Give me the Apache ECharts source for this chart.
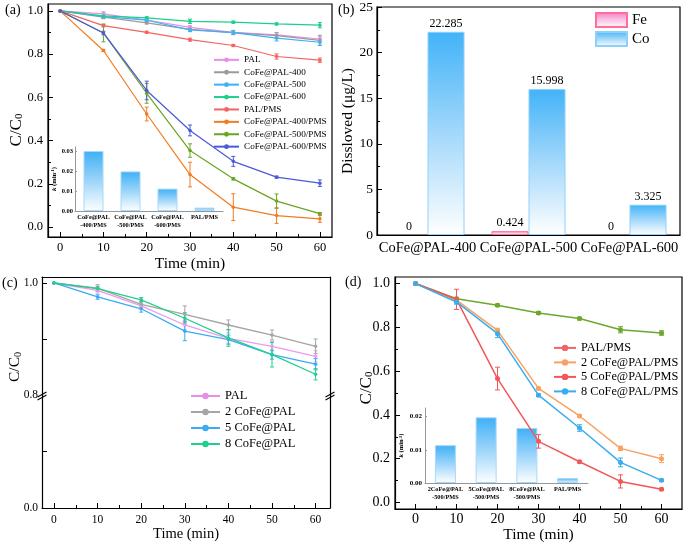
<!DOCTYPE html>
<html><head><meta charset="utf-8">
<script src="https://cdn.jsdelivr.net/npm/echarts@6/dist/echarts.min.js"></script>
<style>html,body{margin:0;padding:0;background:#fff}#c{width:685px;height:544px}</style>
</head><body><div id="c"></div>
<script>
// ---------------- data ----------------
const timeMin = [0, 10, 20, 30, 40, 50, 60];
const timeTicks = [0, 10, 20, 30, 40, 50, 60];
const timeMinorTicks = [5, 15, 25, 35, 45, 55];
const yTicksMain = [0, 0.2, 0.4, 0.6, 0.8, 1.0];
const yTicksMinor = [0.1, 0.3, 0.5, 0.7, 0.9];

// panel (a)
const aNames = ['PAL', 'CoFe@PAL-400', 'CoFe@PAL-500', 'CoFe@PAL-600', 'PAL/PMS', 'CoFe@PAL-400/PMS', 'CoFe@PAL-500/PMS', 'CoFe@PAL-600/PMS'];
const aPAL     = [1, 0.986, 0.958, 0.924, 0.901, 0.889, 0.870];
const a400     = [1, 0.971, 0.945, 0.915, 0.900, 0.886, 0.864];
const a500     = [1, 0.974, 0.957, 0.912, 0.900, 0.874, 0.855];
const a600     = [1, 0.977, 0.968, 0.952, 0.948, 0.940, 0.934];
const aPALPMS  = [1, 0.932, 0.901, 0.867, 0.840, 0.789, 0.772];
const a400PMS  = [1, 0.817, 0.523, 0.243, 0.092, 0.053, 0.038];
const a500PMS  = [1, 0.898, 0.619, 0.354, 0.223, 0.120, 0.062];
const a600PMS  = [1, 0.898, 0.632, 0.447, 0.304, 0.231, 0.203];
const aErrPAL    = [0, 0.010, 0.006, 0.008, 0.008, 0.010, 0.010];
const aErr400    = [0, 0.005, 0.006, 0.010, 0.010, 0.013, 0.023];
const aErr500    = [0, 0.005, 0.006, 0.008, 0.008, 0.013, 0.015];
const aErr600    = [0, 0.013, 0.005, 0.010, 0.005, 0.005, 0.012];
const aErrPALPMS = [0, 0.006, 0.005, 0.007, 0.005, 0.012, 0.010];
const aErr400PMS = [0, 0.005, 0.032, 0.057, 0.062, 0.036, 0.016];
const aErr500PMS = [0, 0.041, 0.046, 0.031, 0.005, 0.033, 0.005];
const aErr600PMS = [0, 0.008, 0.043, 0.025, 0.023, 0.005, 0.015];
const insetACats = ['CoFe@PAL\n-400/PMS', 'CoFe@PAL\n-500/PMS', 'CoFe@PAL\n-600/PMS', 'PAL/PMS'];
const insetAK = [0.0300, 0.0198, 0.0112, 0.0017];
const insetATicks = [0, 0.01, 0.02, 0.03];

// panel (b)
const bCategories = ['CoFe@PAL-400', 'CoFe@PAL-500', 'CoFe@PAL-600'];
const bFe = [0, 0.424, 0];
const bCo = [22.285, 15.998, 3.325];

// panel (c)
const cNames = ['PAL', '2 CoFe@PAL', '5 CoFe@PAL', '8 CoFe@PAL'];
const cPAL = [1, 0.987, 0.959, 0.925, 0.901, 0.887, 0.869];
const c2   = [1, 0.991, 0.962, 0.944, 0.925, 0.907, 0.887];
const c5   = [1, 0.975, 0.954, 0.914, 0.899, 0.872, 0.855];
const c8   = [1, 0.990, 0.970, 0.937, 0.902, 0.872, 0.837];
const cErrPAL = [0, 0.005, 0.005, 0.008, 0.010, 0.008, 0.010];
const cErr2   = [0, 0.006, 0.005, 0.015, 0.009, 0.009, 0.013];
const cErr5   = [0, 0.004, 0.006, 0.017, 0.008, 0.008, 0.010];
const cErr8   = [0, 0.004, 0.004, 0.010, 0.015, 0.022, 0.010];

// panel (d)
const dNames = ['PAL/PMS', '2 CoFe@PAL/PMS', '5 CoFe@PAL/PMS', '8 CoFe@PAL/PMS'];
const dPALPMS = [1, 0.931, 0.901, 0.866, 0.840, 0.789, 0.774];
const d2      = [1, 0.924, 0.786, 0.521, 0.395, 0.247, 0.200];
const d5      = [1, 0.928, 0.566, 0.279, 0.186, 0.096, 0.060];
const d8      = [1, 0.916, 0.771, 0.490, 0.340, 0.183, 0.101];
const dErrPALPMS = [0, 0.006, 0.006, 0.006, 0.006, 0.014, 0.010];
const dErr2      = [0, 0.008, 0.010, 0.006, 0.006, 0.010, 0.018];
const dErr5      = [0, 0.046, 0.052, 0.031, 0.005, 0.030, 0.005];
const dErr8      = [0, 0.010, 0.018, 0.006, 0.015, 0.020, 0.005];
const insetDCats = ['2CoFe@PAL\n-500/PMS', '5CoFe@PAL\n-500/PMS', '8CoFe@PAL\n-500/PMS', 'PAL/PMS'];
const insetDK = [0.0114, 0.0198, 0.0166, 0.0015];
const insetDTicks = [0, 0.01, 0.02];

// ---------------- helpers ----------------
const FONT = '"Liberation Serif","Times New Roman",serif';

function vAxis(o) {
  return {
    type: 'value', gridIndex: o.g, position: o.pos, min: o.min, max: o.max,
    axisLine: { show: o.line !== false, onZero: false, lineStyle: { color: o.lc || '#000', width: o.lw || 1.2 } },
    axisTick: { show: !!o.ticks, inside: true, length: o.tl || 5, customValues: o.ticks, lineStyle: { color: o.lc || '#000', width: 1 } },
    axisLabel: { show: !!o.labels, customValues: o.labels, margin: o.margin || 5, fontFamily: FONT, fontSize: o.fs || 12,
      fontWeight: o.fw || 'normal', color: '#000', formatter: o.fmt },
    splitLine: { show: false }, minorTick: { show: false },
    name: o.name || '', nameLocation: 'middle', nameGap: o.nameGap || 20,
    nameTextStyle: Object.assign({ fontFamily: FONT, fontSize: o.nfs || 15, color: '#000' }, o.nts || {}),
    z: 5
  };
}
const f1 = v => v.toFixed(1);
const f2 = v => v.toFixed(2);

function lineS(name, ys, color, xi, yi, size, lw) {
  return { type: 'line', name: name, xAxisIndex: xi, yAxisIndex: yi,
    data: timeMin.map((t, i) => [t, ys[i]]), symbol: 'circle', symbolSize: size, showSymbol: true,
    lineStyle: { color: color, width: lw }, itemStyle: { color: color }, z: 4 };
}
function errS(name, ys, es, color, xi, yi, cap) {
  return { type: 'custom', name: name + ' err', xAxisIndex: xi, yAxisIndex: yi, silent: true, z: 3,
    data: timeMin.map((t, i) => [t, ys[i] - es[i], ys[i] + es[i]]),
    encode: { x: 0, y: [1, 2] },
    renderItem: function (params, api) {
      const p0 = api.coord([api.value(0), api.value(1)]);
      const p1 = api.coord([api.value(0), api.value(2)]);
      const st = { stroke: color, lineWidth: 1 };
      return { type: 'group', children: [
        { type: 'line', shape: { x1: p0[0], y1: p0[1], x2: p1[0], y2: p1[1] }, style: st },
        { type: 'line', shape: { x1: p0[0] - cap, y1: p0[1], x2: p0[0] + cap, y2: p0[1] }, style: st },
        { type: 'line', shape: { x1: p1[0] - cap, y1: p1[1], x2: p1[0] + cap, y2: p1[1] }, style: st }
      ] };
    } };
}
function grad(c0, c1, c2) {
  return new echarts.graphic.LinearGradient(0, 0, 0, 1, [
    { offset: 0, color: c0 }, { offset: 0.5, color: c1 }, { offset: 1, color: c2 }]);
}
function catInset(g, cats) {
  return { type: 'category', gridIndex: g, data: cats,
    axisLine: { onZero: false, lineStyle: { color: '#8f99a6', width: 1 } }, axisTick: { show: false },
    axisLabel: { interval: 0, fontFamily: FONT, fontSize: 6.3, fontWeight: 'bold', color: '#000', lineHeight: 8, margin: 2 } };
}
const kName = { name: '{i|k} (min{p|-1})', nts: { fontSize: 6.5, fontWeight: 'bold',
  rich: { i: { fontStyle: 'italic', fontWeight: 'bold', fontSize: 7, fontFamily: FONT },
          p: { fontSize: 4.5, fontWeight: 'bold', verticalAlign: 'top', lineHeight: 5, fontFamily: FONT } } } };
// zero-height bars get no outline (value stays as read)
const barItems = vals => vals.map(v => (v === 0 ? { value: v, itemStyle: { borderWidth: 0 } } : v));

// ---------------- colours ----------------
const aColors = ['#e68fe6', '#9b9b9b', '#3db1f5', '#1ccf8a', '#f26464', '#f27b22', '#6aa522', '#4a5ad8'];
const cColors = ['#ee99ee', '#a5a5a5', '#3aabf5', '#1fcf8c'];
const dColors = ['#6ca82c', '#f7a263', '#f25757', '#38adef'];

// ---------------- grids ----------------
const frame = { show: true, borderColor: '#000', borderWidth: 1.2, backgroundColor: 'transparent' };
const grids = [
  Object.assign({ left: 48, top: 4, width: 284, height: 233 }, frame),   // 0 a
  { left: 75, top: 147, width: 148, height: 64 },                           // 1 a inset
  Object.assign({ left: 377, top: 5, width: 303, height: 230 }, frame),  // 2 b
  { left: 42, top: 277, width: 288, height: 118 },                          // 3 c upper
  { left: 42, top: 395, width: 288, height: 113 },                          // 4 c lower
  Object.assign({ left: 395, top: 277, width: 287, height: 232 }, frame),// 5 d
  { left: 425, top: 408, width: 163, height: 75 }                           // 6 d inset
];

const xAxes = [
  vAxis({ g: 0, pos: 'bottom', min: -2.8, max: 62.8, ticks: timeTicks, labels: timeTicks, fs: 12.5, margin: 4.7,
          name: 'Time (min)', nameGap: 12, nfs: 15.5 }),                                                   // 0
  vAxis({ g: 0, pos: 'bottom', min: -2.8, max: 62.8, line: false, ticks: timeMinorTicks, tl: 3 }),      // 1
  catInset(1, insetACats),                                                                               // 2
  { type: 'category', gridIndex: 2, data: bCategories,
    axisLine: { onZero: false, lineStyle: { color: '#000', width: 1.2 } },
    axisTick: { inside: true, length: 5, lineStyle: { color: '#000' } },
    axisLabel: { interval: 0, fontFamily: FONT, fontSize: 14.5, color: '#000', margin: 6 } },            // 3
  vAxis({ g: 3, pos: 'top', min: -2.75, max: 63.3 }),                                                   // 4
  vAxis({ g: 4, pos: 'bottom', min: -2.75, max: 63.3, ticks: timeTicks, labels: timeTicks, fs: 11.5, margin: 5.5,
          name: 'Time (min)', nameGap: 14, nfs: 14.5 }),                                                 // 5
  vAxis({ g: 4, pos: 'bottom', min: -2.75, max: 63.3, line: false, ticks: timeMinorTicks, tl: 3 }),     // 6
  vAxis({ g: 5, pos: 'bottom', min: -5, max: 65, ticks: timeTicks, labels: timeTicks, fs: 14, margin: 3,
          name: 'Time (min)', nameGap: 12, nfs: 15.5 }),                                                 // 7
  vAxis({ g: 5, pos: 'bottom', min: -5, max: 65, line: false, ticks: timeMinorTicks, tl: 3 }),          // 8
  catInset(6, insetDCats)                                                                                // 9
];

const yAxes = [
  vAxis({ g: 0, pos: 'left', min: -0.046, max: 1.032, ticks: yTicksMain, labels: yTicksMain, fmt: f1, fs: 12.5, margin: 5 }), // 0
  vAxis({ g: 0, pos: 'left', min: -0.046, max: 1.032, line: false, ticks: yTicksMinor, tl: 3 }),                              // 1
  vAxis(Object.assign({ g: 1, pos: 'left', min: 0, max: 0.032, ticks: insetATicks, labels: insetATicks, fmt: f2,
          fs: 6.5, fw: 'bold', lc: '#8f99a6', lw: 1, tl: 2, margin: 2, nameGap: 15 }, kName)),                                 // 2
  { type: 'value', gridIndex: 2, min: 0, max: 25, interval: 5,
    axisLine: { show: true, onZero: false, lineStyle: { color: '#000', width: 1.2 } },
    axisTick: { show: true, inside: true, length: 5, lineStyle: { color: '#000' } },
    minorTick: { show: true, splitNumber: 2, length: 3, lineStyle: { color: '#000' } },
    axisLabel: { fontFamily: FONT, fontSize: 13.5, color: '#000', margin: 4 },
    splitLine: { show: false }, minorSplitLine: { show: false },
    name: 'Dissloved (\u03bcg/L)', nameLocation: 'middle', nameGap: 21,
    nameTextStyle: { fontFamily: FONT, fontSize: 15.5, color: '#000' } },                                                     // 3
  vAxis({ g: 3, pos: 'left', min: 0.8, max: 1.0107, ticks: [0.9, 1.0], labels: [0.8, 1.0], fmt: f1, fs: 11.5, margin: 4 }), // 4
  vAxis({ g: 3, pos: 'right', min: 0.8, max: 1.0107 }),                                                                       // 5
  vAxis({ g: 4, pos: 'left', min: 0, max: 0.8, ticks: [0.4], labels: [0], fmt: f1, fs: 11.5, margin: 4 }),                   // 6
  vAxis({ g: 4, pos: 'right', min: 0, max: 0.8 }),                                                                            // 7
  vAxis({ g: 5, pos: 'left', min: -0.03, max: 1.03, ticks: yTicksMain, labels: yTicksMain, fmt: f1, fs: 14, margin: 5 }),    // 8
  vAxis({ g: 5, pos: 'left', min: -0.03, max: 1.03, line: false, ticks: yTicksMinor, tl: 3 }),                               // 9
  vAxis(Object.assign({ g: 6, pos: 'left', min: 0, max: 0.0226, ticks: insetDTicks, labels: insetDTicks, fmt: f2,
          fs: 7, fw: 'bold', lc: '#8f99a6', lw: 1, tl: 2, margin: 3, nameGap: 20 }, kName))                                    // 10
];

// ---------------- series ----------------
const series = [];
const aData = [aPAL, a400, a500, a600, aPALPMS, a400PMS, a500PMS, a600PMS];
const aErr = [aErrPAL, aErr400, aErr500, aErr600, aErrPALPMS, aErr400PMS, aErr500PMS, aErr600PMS];
aNames.forEach((n, i) => { series.push(errS(n, aData[i], aErr[i], aColors[i], 0, 0, 2)); });
aNames.forEach((n, i) => { series.push(lineS(n, aData[i], aColors[i], 0, 0, 3.5, 1.2)); });

const blueGrad = () => grad('#3eb0f6', '#9dd5fa', '#ffffff');
series.push({ type: 'bar', name: 'k inset a', xAxisIndex: 2, yAxisIndex: 2, data: insetAK, barWidth: 20,
  itemStyle: { color: blueGrad(), borderColor: '#a8d8f7', borderWidth: 1 }, z: 2 });

series.push({ type: 'bar', name: 'Fe', xAxisIndex: 3, yAxisIndex: 3, data: barItems(bFe), barWidth: 37, barGap: '0%',
  itemStyle: { color: grad('#f57cc6', '#fbc4e4', '#ffffff'), borderColor: '#ff6f9a', borderWidth: 1 },
  label: { show: true, position: 'top', distance: 2, fontFamily: FONT, fontSize: 12, color: '#000' } });
series.push({ type: 'bar', name: 'Co', xAxisIndex: 3, yAxisIndex: 3, data: barItems(bCo), barWidth: 37, barGap: '0%',
  itemStyle: { color: grad('#42b3f8', '#a3d8fb', '#ffffff'), borderColor: '#8fd0fa', borderWidth: 1 },
  label: { show: true, position: 'top', distance: 2, fontFamily: FONT, fontSize: 12, color: '#000' } });

const cData = [cPAL, c2, c5, c8];
const cErr = [cErrPAL, cErr2, cErr5, cErr8];
cNames.forEach((n, i) => { series.push(errS(n, cData[i], cErr[i], cColors[i], 4, 4, 2)); });
cNames.forEach((n, i) => { series.push(lineS(n, cData[i], cColors[i], 4, 4, 3.5, 1.3)); });

const dData = [dPALPMS, d2, d5, d8];
const dErr = [dErrPALPMS, dErr2, dErr5, dErr8];
dNames.forEach((n, i) => { series.push(errS(n, dData[i], dErr[i], dColors[i], 7, 8, 2.5)); });
dNames.forEach((n, i) => { series.push(lineS(n, dData[i], dColors[i], 7, 8, 5, 1.5)); });

series.push({ type: 'bar', name: 'k inset d', xAxisIndex: 9, yAxisIndex: 10, data: insetDK, barWidth: 21,
  itemStyle: { color: blueGrad(), borderColor: '#a8d8f7', borderWidth: 1 }, z: 2 });

// ---------------- legends ----------------
const legTxt = (fs) => ({ fontFamily: FONT, fontSize: fs, lineHeight: fs + 0.5, color: '#000' });
const legends = [
  { data: aNames, left: 213, top: 55, orient: 'vertical', itemWidth: 25, itemHeight: 6, itemGap: 2.7, padding: 0,
    textStyle: legTxt(9.2) },
  { data: ['Fe', 'Co'], left: 595, top: 12, orient: 'vertical', icon: 'rect', itemWidth: 31, itemHeight: 14, itemGap: 3,
    padding: 0, textStyle: { fontFamily: FONT, fontSize: 15, color: '#000' } },
  { data: cNames, left: 190, top: 389.5, orient: 'vertical', itemWidth: 29, itemHeight: 8, itemGap: 3, padding: 0,
    textStyle: legTxt(12.5) },
  { data: dNames, left: 553, top: 341.5, orient: 'vertical', itemWidth: 22, itemHeight: 8, itemGap: 1.7, padding: 0,
    textStyle: legTxt(12.3) }
];

// ---------------- graphic text / decorations ----------------
function panelLabel(t, x, y) {
  return { type: 'text', x: x, y: y, style: { text: t, fontFamily: FONT, fontSize: 14, fill: '#000' } };
}
function ccLabel(x, y, fs) {
  return { type: 'text', x: x, y: y, rotation: Math.PI / 2,
    style: { text: '{m|C/C}{s|0}', align: 'center', verticalAlign: 'middle',
      rich: { m: { fontFamily: FONT, fontSize: fs, lineHeight: fs + 3, fill: '#000', verticalAlign: 'bottom' },
              s: { fontFamily: FONT, fontSize: fs * 0.65, lineHeight: fs * 0.65 + 1, fill: '#000', verticalAlign: 'bottom' } } } };
}
function breakMark(x, y) {
  return [
    { type: 'line', shape: { x1: x - 4.5, y1: y + 1, x2: x + 4.5, y2: y - 4 }, style: { stroke: '#000', lineWidth: 1.1 } },
    { type: 'line', shape: { x1: x - 4.5, y1: y + 4, x2: x + 4.5, y2: y - 1 }, style: { stroke: '#000', lineWidth: 1.1 } }
  ];
}
const graphics = [
  panelLabel('(a)', 5, 3), panelLabel('(b)', 338, 3), panelLabel('(c)', 2, 276), panelLabel('(d)', 345, 275),
  ccLabel(15, 130, 17), ccLabel(14, 367, 15.5), ccLabel(365, 388, 17)
].concat(breakMark(42, 396), breakMark(330, 396));

const chart = echarts.init(document.getElementById('c'), null, { renderer: 'canvas' });
chart.setOption({
  animation: false,
  backgroundColor: '#fff',
  grid: grids,
  xAxis: xAxes,
  yAxis: yAxes,
  legend: legends,
  series: series,
  graphic: graphics
});
</script>
</body></html>
